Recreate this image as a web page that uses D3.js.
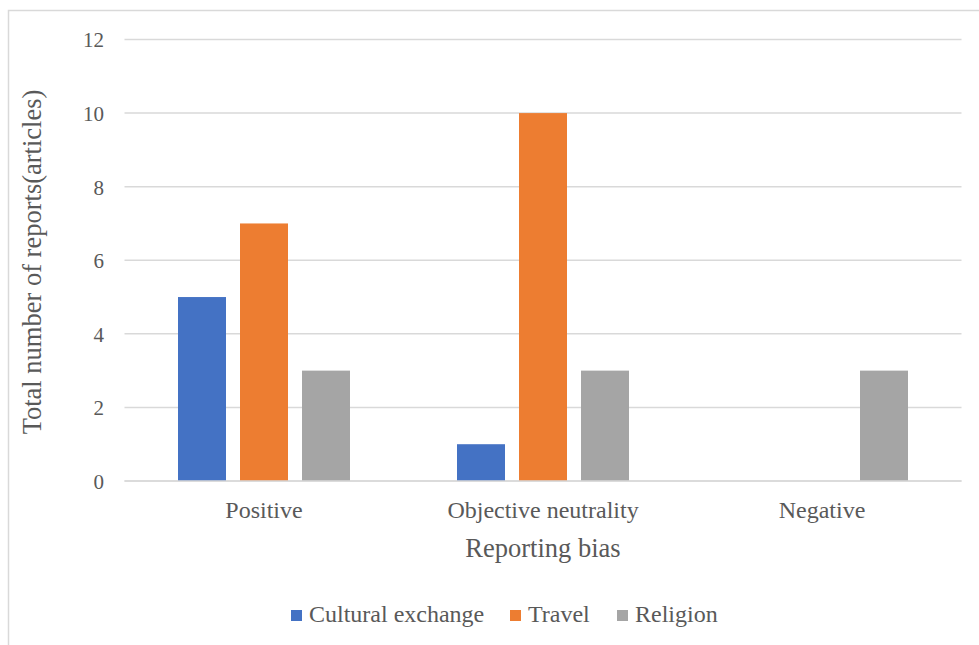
<!DOCTYPE html>
<html>
<head>
<meta charset="utf-8">
<script src="https://cdn.jsdelivr.net/npm/d3@7"></script>
<style>
  body { margin: 0; background: #fff; }
</style>
</head>
<body>
<script>
var categories = ['Positive', 'Objective neutrality', 'Negative'];
var seriesNames = ['Cultural exchange', 'Travel', 'Religion'];
var seriesColors = ['#4472c4', '#ed7d31', '#a5a5a5'];
var culturalExchange = [5, 1, 0];
var travel = [7, 10, 0];
var religion = [3, 3, 3];
var yTicks = [0, 2, 4, 6, 8, 10, 12];

var seriesValues = [culturalExchange, travel, religion];

var FONT = 'Times New Roman, serif';
var W = 979, H = 645;
var svg = d3.select('body').append('svg')
    .attr('width', W)
    .attr('height', H);

// outer chart border
svg.append('rect')
    .attr('x', 8.5).attr('y', 10.5)
    .attr('width', W + 10).attr('height', H + 10)
    .attr('fill', 'none')
    .attr('stroke', '#d9d9d9')
    .attr('stroke-width', 1.5);

var x0 = d3.scaleBand().domain(categories).range([124.5, 961.5]);
var groupW = 172;
var x1 = d3.scaleBand().domain(seriesNames).range([0, groupW]).paddingInner(14 / 62);
var y = d3.scaleLinear().domain([0, 12]).range([481, 39.5]);

// gridlines
svg.append('g').selectAll('line').data(yTicks)
    .enter().append('line')
        .attr('x1', 124.5).attr('x2', 961.5)
        .attr('y1', function (d) { return y(d); })
        .attr('y2', function (d) { return y(d); })
        .attr('stroke', '#d9d9d9')
        .attr('stroke-width', 1.5);

// y tick labels
var yAxis = d3.axisLeft(y).tickValues(yTicks).tickSize(0).tickPadding(0);
var gy = svg.append('g').attr('transform', 'translate(104,0)').call(yAxis);
gy.select('.domain').remove();
gy.attr('font-family', FONT).attr('font-size', 21);
gy.selectAll('text')
    .attr('fill', '#595959')
    .attr('dy', '0.35em');

// bars
var groups = svg.append('g').selectAll('g').data(categories)
    .enter().append('g')
        .attr('transform', function (c) {
            return 'translate(' + (x0(c) + (x0.bandwidth() - groupW) / 2) + ',0)';
        });

groups.selectAll('rect')
    .data(function (c, i) {
        return seriesNames.map(function (s, j) {
            return { s: s, j: j, v: seriesValues[j][i] };
        });
    })
    .enter().append('rect')
        .attr('x', function (d) { return x1(d.s); })
        .attr('y', function (d) { return y(d.v); })
        .attr('width', x1.bandwidth())
        .attr('height', function (d) { return y(0) - y(d.v); })
        .attr('fill', function (d) { return seriesColors[d.j]; });

// zero line on top
svg.append('line')
    .attr('x1', 124.5).attr('x2', 961.5)
    .attr('y1', y(0)).attr('y2', y(0))
    .attr('stroke', '#d9d9d9')
    .attr('stroke-width', 1.5);

// x category labels
var xAxis = d3.axisBottom(x0).tickSize(0).tickPadding(0);
var gx = svg.append('g').attr('transform', 'translate(0,' + (y(0) + 37) + ')').call(xAxis);
gx.select('.domain').remove();
gx.attr('font-family', FONT).attr('font-size', 24);
gx.selectAll('text')
    .attr('fill', '#595959')
    .attr('dy', 0);

// axis titles
svg.append('text')
    .attr('x', 543).attr('y', 557)
    .attr('text-anchor', 'middle')
    .attr('font-family', FONT)
    .attr('font-size', 26.5)
    .attr('fill', '#595959')
    .text('Reporting bias');

svg.append('text')
    .attr('transform', 'translate(41,262) rotate(-90)')
    .attr('text-anchor', 'middle')
    .attr('font-family', FONT)
    .attr('font-size', 26.5)
    .attr('fill', '#595959')
    .text('Total number of reports(articles)');

// legend
var legendX = [291, 510, 617];
var lg = svg.append('g').selectAll('g').data(seriesNames)
    .enter().append('g')
        .attr('transform', function (d, i) { return 'translate(' + legendX[i] + ',610)'; });
lg.append('rect')
    .attr('width', 11).attr('height', 11)
    .attr('fill', function (d, i) { return seriesColors[i]; });
lg.append('text')
    .attr('x', 18).attr('y', 12)
    .attr('font-family', FONT)
    .attr('font-size', 24)
    .attr('fill', '#595959')
    .text(function (d) { return d; });
</script>
</body>
</html>
